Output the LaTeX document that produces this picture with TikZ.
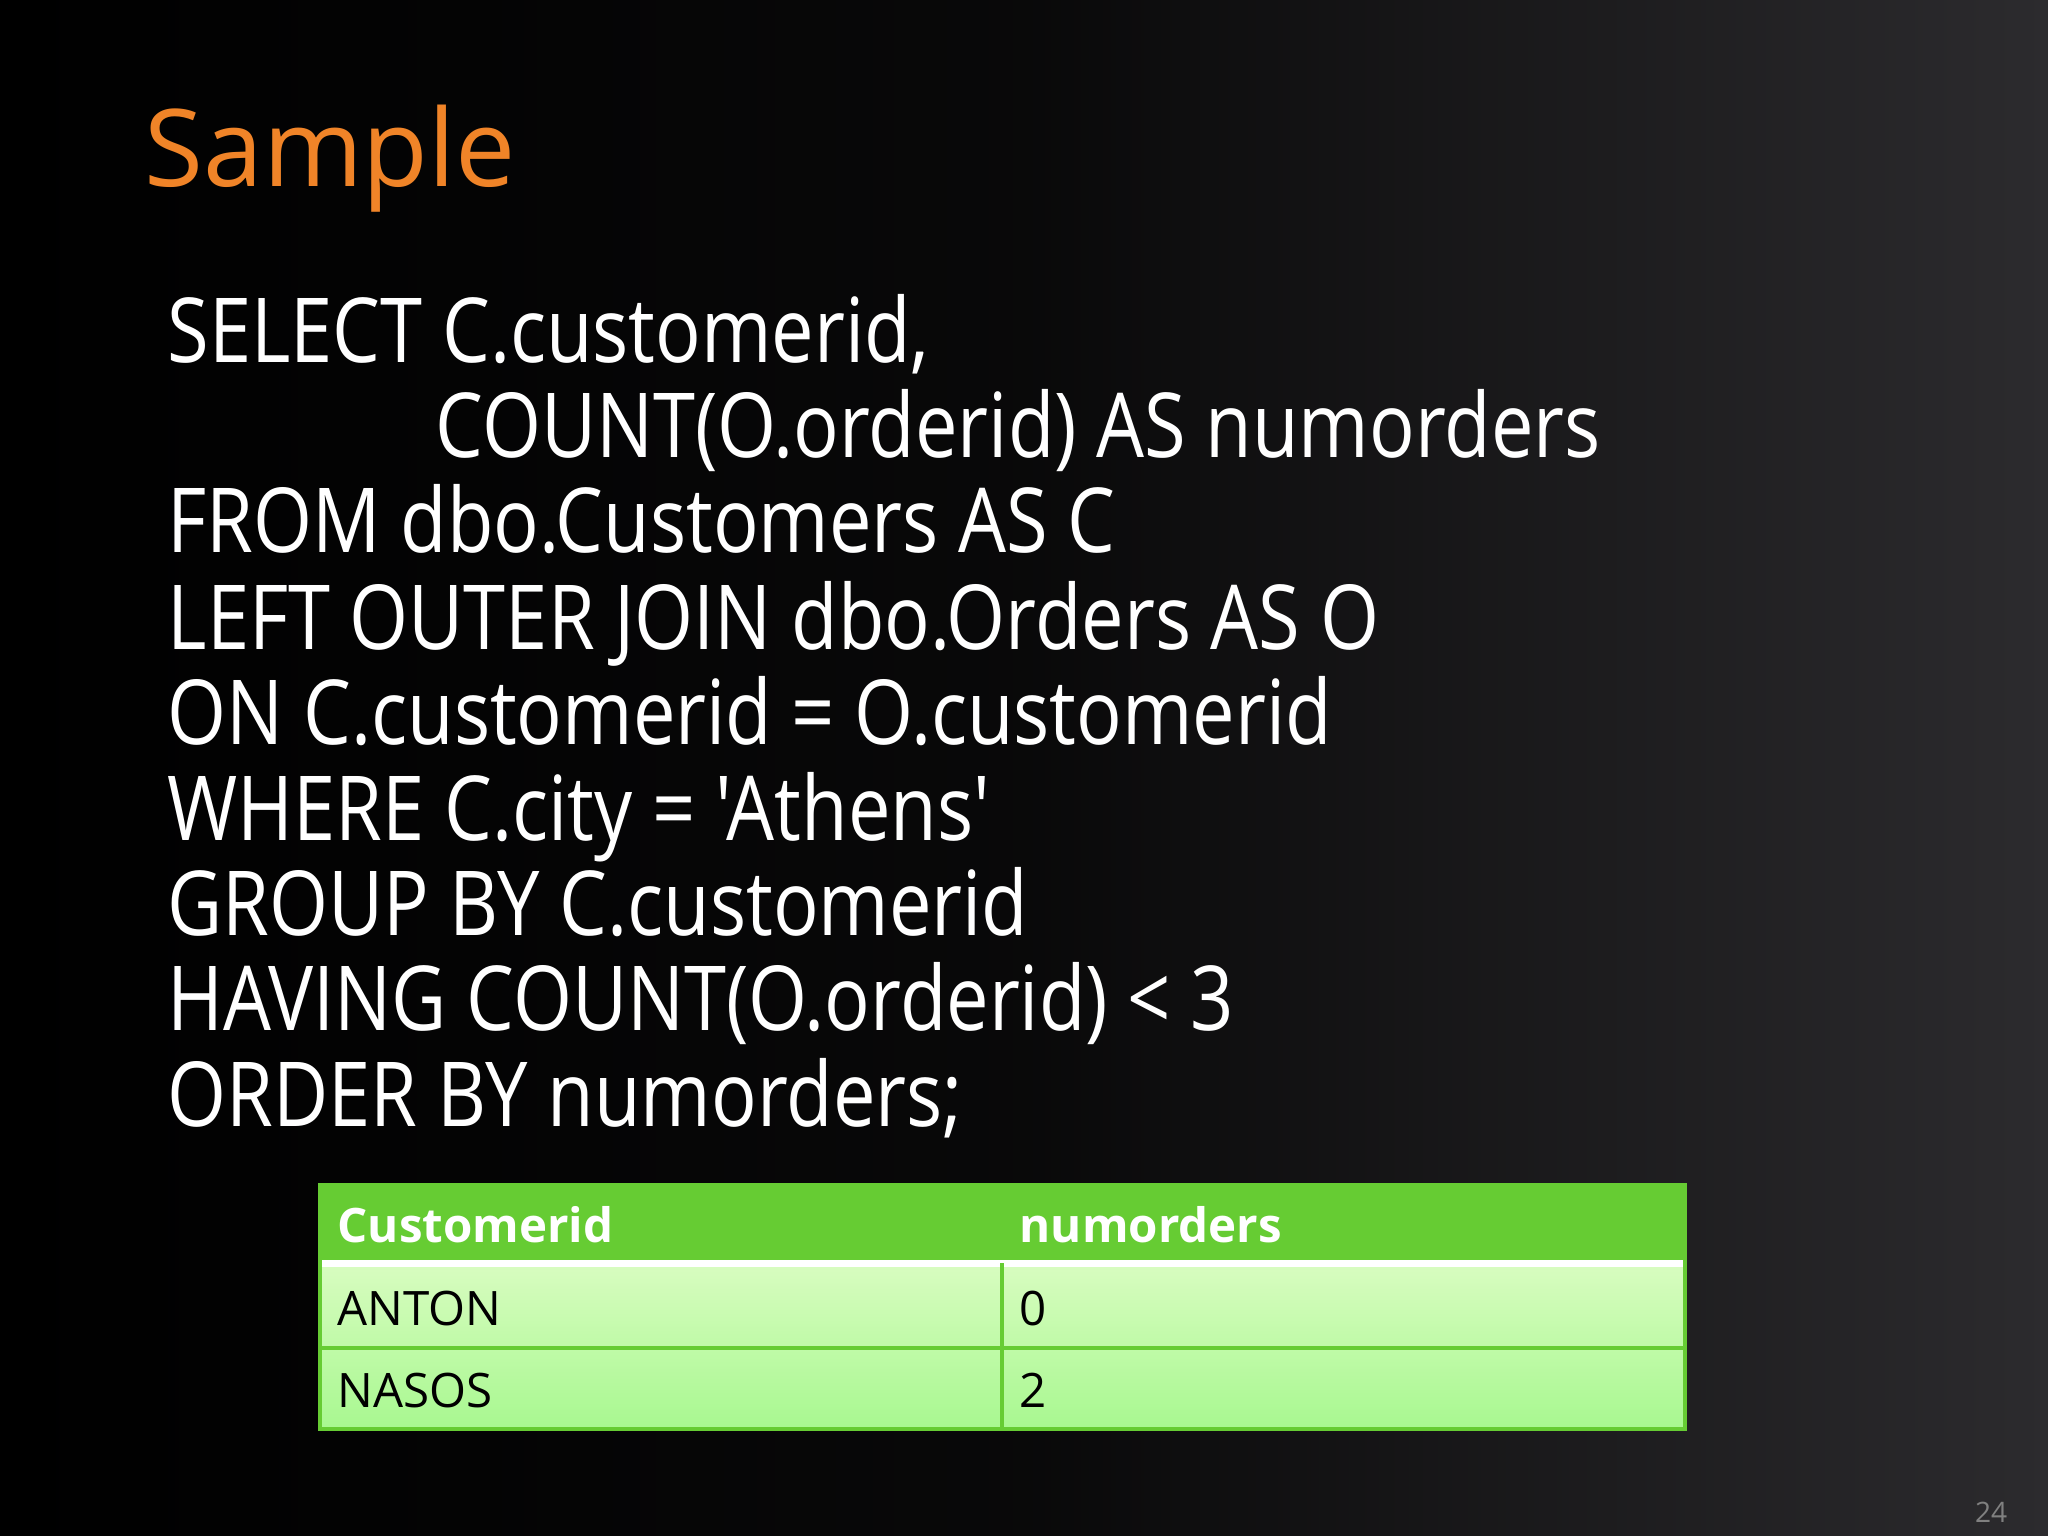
\documentclass[tikz,border=0pt]{standalone}
\usepackage{fontspec}
\setmainfont{Open Sans}
\newfontfamily\codefont[FakeStretch=0.845]{Open Sans}
\definecolor{ttl}{HTML}{F08428}
\definecolor{hdr}{HTML}{66CC33}
\definecolor{rowa}{HTML}{D8FCC0}
\definecolor{rowb}{HTML}{A8F890}
\definecolor{grid}{HTML}{66CC33}
\definecolor{bgr}{HTML}{2C2B2E}
\begin{document}
\begin{tikzpicture}[x=0.01cm,y=-0.01cm,
  code/.style={anchor=base west,inner sep=0,text=white,font=\codefont\fontsize{25.5}{30}\selectfont},
  cell/.style={anchor=base west,inner sep=0,text=black,font=\fontsize{13.5}{16}\selectfont},
  hcell/.style={anchor=base west,inner sep=0,text=white,font=\fontsize{13.5}{16}\selectfont\bfseries}]
\useasboundingbox (0,0) rectangle (2048,1536);
\shade[left color=black,right color=bgr,middle color=black!80!bgr] (0,0) rectangle (2048,1536);
\node[anchor=base west,inner sep=0,text=ttl,font=\fontsize{30.5}{32}\selectfont] (title) at (144,186) {Sample};
\node[code] (l1) at (167,362) {SELECT C.customerid,};
\node[code] (l2) at (435,457) {COUNT(O.orderid) AS numorders};
\node[code] (l3) at (167,552) {FROM dbo.Customers AS C};
\node[code] (l4) at (167,649) {LEFT OUTER JOIN dbo.Orders AS O};
\node[code] (l5) at (167,744) {ON C.customerid = O.customerid};
\node[code] (l6) at (167,840) {WHERE C.city = \char"27 Athens\char"27};
\node[code] (l7) at (167,935) {GROUP BY C.customerid};
\node[code] (l8) at (167,1030) {HAVING COUNT(O.orderid) < 3};
\node[code] (l9) at (167,1126) {ORDER BY numorders;};
\fill[hdr] (320,1185) rectangle (1685,1263);
\shade[top color=rowa,bottom color=rowb] (320,1263) rectangle (1685,1429);
\draw[white,line width=2pt] (320,1263) -- (1685,1263);
\draw[grid,line width=1pt] (320,1348) -- (1685,1348) (1002,1263) -- (1002,1429) (320,1185) rectangle (1685,1429);
\node[hcell] (h1) at (337,1242) {Customerid};
\node[hcell] (h2) at (1019,1242) {numorders};
\node[cell] (a1) at (337,1325) {ANTON};
\node[cell] (a2) at (1019,1325) {0};
\node[cell] (b1) at (337,1407) {NASOS};
\node[cell] (b2) at (1019,1407) {2};
\node[anchor=base east,inner sep=0,text=gray,font=\fontsize{8}{9}\selectfont] (pg) at (2008,1522) {24};
\end{tikzpicture}
\end{document}
